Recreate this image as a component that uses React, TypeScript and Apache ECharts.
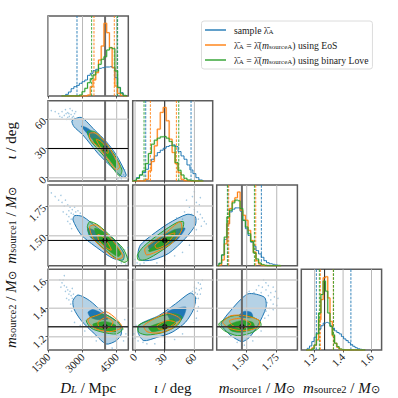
import React, { useEffect, useRef } from "react";
import * as echarts from "echarts";

const BLUE = "#1f77b4", ORANGE = "#ff7f0e", GREEN = "#2ca02c";
const FONT = "Liberation Serif";

// axis tick values
const dlTicks = [1500, 3000, 4500];
const iotaTicks = [0, 30, 60];
const m1Ticks = [1.5, 1.75];
const m2Ticks = [1.2, 1.4, 1.6];
const truths = [3990, 30, 1.46, 1.27];

// histograms
const dlBins = [2080,2200,2320,2440,2560,2680,2800,2920,3040,3160,3280,3400,3520,3640,3760,3880,4000,4120,4240,4360,4480,4600,4720,4840,4960];
const dlBlue = [0,1,5,12,22,28,32,38,43,48,62,68,76,80,83,85,87,87,88,85,55,26,10,2,0];
const dlOrange = [0,0,0,0,0,0,0,0,0,0,3,28,48,70,108,150,218,190,145,85,30,8,2,0,0];
const dlGreen = [0,0,0,0,0,0,0,3,13,23,40,52,63,75,95,110,118,138,145,142,75,25,8,1,0];

const iotaBins = [-3,0,3,6,9,12,15,18,21,24,27,30,33,36,39,42,45,48,51,54,57,60,63,66,69];
const iotaBlue = [0,2,10,18,25,35,50,65,75,85,92,98,103,106,108,103,88,75,65,48,33,22,10,3,1];
const iotaOrange = [0,0,0,0,0,5,30,58,105,155,205,220,180,125,85,52,25,5,1,0,0,0,0,0,0];
const iotaGreen = [0,2,8,18,30,52,82,110,122,128,132,133,128,118,105,55,32,18,8,3,1,0,0,0,0];

const m1Bins = [1.258,1.28,1.302,1.324,1.346,1.368,1.39,1.412,1.434,1.456,1.478,1.5,1.522,1.544,1.566,1.588,1.61,1.632,1.654,1.676,1.698,1.72,1.742,1.764,1.786];
const m1Blue = [0,7,32,78,125,160,168,172,172,162,135,110,90,70,58,45,35,25,15,9,6,4,2,1,0];
const m1Orange = [0,2,17,65,125,170,192,202,219,165,150,135,105,75,40,15,5,1,0,0,0,0,0,0,0];
const m1Green = [0,7,32,85,145,165,187,195,193,170,135,115,95,72,38,20,8,3,1,0,0,0,0,0,0];

const m2Bins = [1.14,1.156,1.172,1.188,1.204,1.22,1.236,1.252,1.268,1.284,1.3,1.316,1.332,1.348,1.364,1.38,1.396,1.412,1.428,1.444,1.46,1.476,1.492,1.508,1.524,1.54,1.556];
const m2Blue = [1,5,12,25,38,50,62,72,80,82,80,72,65,57,52,48,40,33,28,22,16,11,7,4,2,1,0];
const m2Orange = [0,0,1,6,14,30,90,150,215,218,155,85,42,20,8,2,0,0,0,0,0,0,0,0,0,0,0];
const m2Green = [0,0,0,3,15,48,110,165,205,175,110,70,45,20,10,3,1,0,0,0,0,0,0,0,0,0,0];

// percentiles drawn as dashed lines: [low, high]
const dlBlueQ = [2757, 4541], dlOrangeQ = [3503, 4395], dlGreenQ = [3400, 4526];
const iotaBlueQ = [10.8, 56.6], iotaOrangeQ = [15.5, 41.8], iotaGreenQ = [9.1, 44.2];
const m1BlueQ = [1.344, 1.622], m1OrangeQ = [1.35, 1.575], m1GreenQ = [1.339, 1.564];
const m2BlueQ = [1.212, 1.455], m2OrangeQ = [1.24, 1.331], m2GreenQ = [1.233, 1.333];

// contours: D_L - iota
const a_blue90 = [[2538,58.6],[2947,62],[3532,49],[4044,37],[4482,23.3],[4921,2.7],[4775,0.3],[4263,11.3],[3678,25],[3020,43.9],[2626,52.5]];
const a_blue50 = [[2947,53.1],[3240,50.7],[4044,35.3],[4409,19.9],[3971,25],[3386,40.5]];
const a_green90 = [[3211,47.3],[3532,47.3],[3971,37],[4409,23.3],[4731,7.9],[4629,1.7],[4336,9.6],[3898,23.3],[3386,37]];
const a_green50 = [[3474,40.5],[3752,38.7],[4044,30.2],[4482,16.5],[4482,9.6],[4190,18.2],[3825,28.5],[3532,35.3]];
const a_orange90 = [[3313,45.6],[3605,45.6],[4044,35.3],[4409,21.6],[4629,11.3],[4482,7.9],[4190,16.5],[3678,31.9],[3357,38.7]];
const a_orange50 = [[3605,39.4],[3825,37],[4117,28.5],[4117,25],[3825,30.2]];
const a_dots = [[1630,69],[1800,68],[1950,66],[2100,68],[2250,70],[2350,67],[2450,71],[2550,69],[2650,66],[2200,64],[2350,62],[2450,60],[2550,62],[2100,62],[2000,63],[2500,65],[2300,60],[2400,66],[2600,63],[2650,61],[2700,68],[2420,63],[2520,60],[2280,66],[4800,3],[4850,8],[4700,-1],[4550,-1],[4900,0],[4650,2],[4760,10]];

// contours: D_L - m1
const b_blue90 = [[2582,1.632],[2655,1.669],[3021,1.66],[3678,1.562],[4409,1.463],[4819,1.351],[4775,1.295],[4336,1.309],[3678,1.393],[2947,1.506]];
const b_blue50 = [[3240,1.562],[3678,1.53],[4409,1.449],[4482,1.393],[3678,1.449],[3313,1.492]];
const b_green90 = [[3211,1.576],[3313,1.618],[3678,1.59],[4263,1.492],[4775,1.393],[4994,1.295],[4819,1.275],[4263,1.337],[3678,1.435],[3313,1.506]];
const b_green50 = [[3532,1.562],[3898,1.534],[4336,1.449],[4702,1.351],[4556,1.323],[4117,1.379],[3678,1.478]];
const b_orange90 = [[3313,1.576],[3605,1.59],[4044,1.52],[4482,1.421],[4775,1.323],[4482,1.303],[3971,1.379],[3459,1.478]];
const b_orange50 = [[3678,1.511],[3971,1.478],[4263,1.379],[3971,1.407],[3708,1.463]];
const b_dots = [[1630,1.86],[1800,1.83],[1950,1.8],[2050,1.84],[2100,1.78],[2200,1.75],[2250,1.8],[2350,1.76],[2400,1.71],[2450,1.74],[2500,1.69],[2550,1.72],[2600,1.68],[2700,1.7],[2300,1.68],[2400,1.66],[2150,1.7],[2500,1.64],[2450,1.6],[2350,1.62],[2650,1.74],[2800,1.71],[2900,1.69],[2520,1.56],[4850,1.38],[4950,1.32],[4900,1.26],[4700,1.27],[5000,1.4]];

// contours: D_L - m2
const c_blue90 = [[2582,1.454],[2801,1.494],[3313,1.454],[3898,1.372],[4629,1.289],[4702,1.219],[4482,1.172],[4044,1.148],[3532,1.219],[2947,1.313],[2626,1.395]];
const c_blue50 = [[3240,1.372],[3459,1.391],[3898,1.36],[4117,1.325],[3678,1.32],[3357,1.336]];
const c_green90 = [[3167,1.313],[3459,1.344],[4044,1.353],[4556,1.301],[4775,1.254],[4482,1.219],[3898,1.231],[3386,1.259]];
const c_green50 = [[3459,1.289],[4044,1.306],[4482,1.278],[4482,1.235],[3971,1.242],[3532,1.259]];
const c_orange90 = [[3240,1.325],[3678,1.353],[4044,1.376],[4482,1.325],[4731,1.266],[4190,1.235],[3605,1.254],[3313,1.289]];
const c_orange50 = [[3678,1.301],[4044,1.336],[4336,1.306],[4190,1.266],[3752,1.266]];
const c_dots = [[2000,1.6],[2100,1.58],[2150,1.6],[2200,1.56],[2300,1.55],[2250,1.52],[2350,1.53],[2400,1.5],[2450,1.52],[2500,1.49],[2550,1.47],[2600,1.5],[2400,1.46],[2300,1.47],[2550,1.54],[2480,1.43],[2520,1.38],[2650,1.3],[2900,1.28],[3100,1.24],[3400,1.2],[3600,1.17],[4000,1.13],[4300,1.12],[4800,1.17],[4900,1.22],[4950,1.27],[4850,1.32],[2200,1.63],[2050,1.55]];

// contours: iota - m1
const d_blue90 = [[3,1.351],[5.4,1.421],[17.2,1.506],[34,1.604],[52.6,1.68],[61,1.66],[61,1.59],[50.9,1.478],[34,1.351],[17.2,1.295],[5.4,1.295]];
const d_blue50 = [[13.5,1.421],[38.8,1.548],[50.6,1.562],[42.1,1.463],[25.3,1.393],[15.2,1.379]];
const d_green90 = [[2.4,1.337],[8.4,1.407],[25.3,1.52],[42.1,1.61],[48.9,1.618],[48.2,1.562],[38.8,1.449],[25.3,1.365],[11.8,1.301],[3.4,1.295]];
const d_green50 = [[13.5,1.374],[28.6,1.478],[40.4,1.548],[40.4,1.506],[28.6,1.407],[15.2,1.365]];
const d_orange90 = [[10.1,1.393],[28.6,1.506],[45.5,1.618],[47.2,1.548],[38.8,1.449],[25.3,1.379],[11.8,1.337]];
const d_orange50 = [[20.2,1.421],[33.7,1.506],[40.4,1.52],[30.3,1.421],[21.9,1.393]];
const d_dots = [[52,1.8],[58,1.83],[62,1.78],[55,1.74],[60,1.72],[65,1.76],[63,1.7],[66,1.68],[68,1.65],[70,1.62],[50,1.7],[57,1.68],[64,1.64],[67,1.58],[72,1.6],[60,1.87],[66,1.82],[48,1.64],[62,1.55],[60,1.5],[55,1.42],[48,1.36],[40,1.33],[2,1.27],[5,1.26],[9,1.27],[0,1.3],[22,1.27],[30,1.29],[42,1.65]];

// contours: iota - m2
const e_blue90 = [[3,1.231],[5.4,1.289],[23.9,1.348],[40.8,1.431],[56,1.508],[61,1.478],[59.3,1.395],[50.9,1.301],[37.4,1.231],[22.2,1.195],[8.8,1.172]];
const e_blue50 = [[32.4,1.372],[42.5,1.4],[51.6,1.407],[47.5,1.325],[37.4,1.306]];
const e_green90 = [[3,1.278],[13.8,1.313],[27.3,1.348],[40.8,1.36],[47.5,1.336],[42.5,1.278],[29,1.231],[12.1,1.212],[3.7,1.231]];
const e_green50 = [[13.8,1.266],[27.3,1.301],[39,1.325],[40.8,1.289],[30.7,1.254],[17.2,1.235]];
const e_orange90 = [[8.8,1.278],[22.2,1.336],[32.4,1.367],[45.8,1.325],[37.4,1.259],[23.9,1.226],[12.1,1.235]];
const e_orange50 = [[22.2,1.278],[32.4,1.313],[40.8,1.301],[32.4,1.259],[23.9,1.254]];
const e_dots = [[68,1.6],[66,1.57],[64,1.58],[62,1.54],[65,1.53],[61,1.51],[63,1.5],[60,1.48],[64,1.47],[66,1.5],[62,1.47],[61,1.44],[64,1.41],[63,1.38],[62,1.33],[60,1.3],[56,1.27],[48,1.22],[40,1.18],[30,1.16],[20,1.15],[12,1.15],[8,1.16],[3,1.17],[0,1.19],[-1,1.22],[1,1.28],[58,1.52],[67,1.54],[60,1.55]];

// contours: m1 - m2
const f_blue90 = [[1.286,1.289],[1.342,1.36],[1.508,1.501],[1.647,1.478],[1.661,1.407],[1.592,1.278],[1.522,1.195],[1.461,1.165],[1.369,1.207],[1.3,1.266]];
const f_blue50 = [[1.433,1.348],[1.481,1.379],[1.536,1.372],[1.55,1.336],[1.453,1.336]];
const f_green90 = [[1.267,1.289],[1.369,1.344],[1.508,1.348],[1.606,1.313],[1.619,1.278],[1.55,1.231],[1.425,1.207],[1.314,1.242]];
const f_green50 = [[1.342,1.278],[1.453,1.313],[1.55,1.301],[1.564,1.259],[1.453,1.231],[1.369,1.242]];
const f_orange90 = [[1.3,1.301],[1.369,1.348],[1.481,1.348],[1.606,1.313],[1.592,1.266],[1.467,1.242],[1.356,1.259]];
const f_orange50 = [[1.356,1.313],[1.453,1.329],[1.536,1.289],[1.467,1.259],[1.383,1.278]];
const f_dots = [[1.64,1.6],[1.66,1.58],[1.6,1.56],[1.63,1.55],[1.68,1.56],[1.72,1.55],[1.58,1.53],[1.66,1.53],[1.7,1.51],[1.74,1.52],[1.56,1.51],[1.62,1.51],[1.68,1.49],[1.73,1.48],[1.76,1.47],[1.7,1.46],[1.72,1.43],[1.75,1.42],[1.67,1.44],[1.69,1.4],[1.72,1.39],[1.66,1.38],[1.68,1.35],[1.65,1.33],[1.62,1.24],[1.6,1.2],[1.55,1.17],[1.48,1.14],[1.42,1.16],[1.35,1.2],[1.52,1.52],[1.5,1.51]];

type Poly = number[][];
// index into a panel's polygons + the style it is painted with, back to front
const paintOrder: [number, any][] = [
  [0, { fill: "rgba(31,119,180,0.33)", stroke: BLUE, lineWidth: 1 }],
  [1, { fill: BLUE, stroke: BLUE, lineWidth: 0.5 }],
  [4, { fill: "rgba(255,127,14,0.12)", stroke: "none" }],
  [2, { fill: "rgba(44,160,44,0.3)", stroke: GREEN, lineWidth: 1 }],
  [3, { fill: GREEN, stroke: GREEN, lineWidth: 0.5 }],
  [4, { fill: "none", stroke: ORANGE, lineWidth: 1 }],
  [5, { fill: "none", stroke: ORANGE, lineWidth: 1 }],
];

const columns = [
  { left: 48, width: 80.3, min: 1485, max: 5009, ticks: dlTicks, truth: truths[0], thick: true },
  { left: 132.7, width: 80, min: -2.36, max: 78.5, ticks: iotaTicks, truth: truths[1], thick: false },
  { left: 216.7, width: 80.7, min: 1.25, max: 1.922, ticks: m1Ticks, truth: truths[2], thick: true },
  { left: 301.3, width: 80.3, min: 1.106, max: 1.671, ticks: m2Ticks, truth: truths[3], thick: false },
];
const rows = [
  { top: 16, height: 80, min: 0, max: 240, ticks: [] as number[], truth: 0 },
  { top: 100.7, height: 80.3, min: -3.4, max: 79.2, ticks: iotaTicks, truth: truths[1] },
  { top: 185, height: 80.7, min: 1.247, max: 1.927, ticks: [1.5, 1.75], truth: truths[2] },
  { top: 269.3, height: 80.7, min: 1.106, max: 1.675, ticks: m2Ticks, truth: truths[3] },
];
const decimals = [0, 0, 2, 1];

const xNames = [
  "{i|D}{s|L}{n| / Mpc}",
  "{i|ι}{n| / deg}",
  "{i|m}{sn|source1}{n| / }{i|M}{sn|⊙}",
  "{i|m}{sn|source2}{n| / }{i|M}{sn|⊙}",
];
const yNames = ["", "{i|ι}{n| / deg}", "{i|m}{sn|source1}{n| / }{i|M}{sn|⊙}", "{i|m}{sn|source2}{n| / }{i|M}{sn|⊙}"];
const NAME_SIZE = 15;
const SUB_SIZE = 10.5;
const nameRich = {
  i: { fontFamily: FONT, fontSize: NAME_SIZE, fontStyle: "italic", fontWeight: "normal", color: "#111" },
  n: { fontFamily: FONT, fontSize: NAME_SIZE, fontWeight: "normal", color: "#111" },
  s: { fontFamily: FONT, fontSize: SUB_SIZE, fontStyle: "italic", fontWeight: "normal", color: "#111", verticalAlign: "bottom", padding: [4, 0, 0, 0] },
  sn: { fontFamily: FONT, fontSize: SUB_SIZE, fontWeight: "normal", color: "#111", verticalAlign: "bottom", padding: [4, 0, 0, 0] },
};

const LEG_SAMPLE = "sample λ̄A";
const LEG_EOS = "λ̄A = λ̄(msourceA) using EoS";
const LEG_LOVE = "λ̄A = λ̄(msourceA) using binary Love";
const legendRich: Record<string, string> = {
  [LEG_SAMPLE]: "{t|sample λ̄}{b|A}",
  [LEG_EOS]: "{t|λ̄}{b|A}{t| = λ̄(}{i|m}{b|sourceA}{t|) using EoS}",
  [LEG_LOVE]: "{t|λ̄}{b|A}{t| = λ̄(}{i|m}{b|sourceA}{t|) using binary Love}",
};

function buildOption() {
  const grids: any[] = [], xAxes: any[] = [], yAxes: any[] = [], series: any[] = [];
  const panels: [number, number][] = [];
  for (let r = 0; r < 4; r++) for (let c = 0; c <= r; c++) panels.push([r, c]);
  const idxOf = (r: number, c: number) => panels.findIndex((p) => p[0] === r && p[1] === c);

  panels.forEach(([r, c], i) => {
    const col = columns[c], row = rows[r];
    const isDiag = r === c;
    grids.push({ show: true, left: col.left, top: row.top, width: col.width, height: row.height, borderColor: "#5c5c5c", borderWidth: 1.5, backgroundColor: "transparent", containLabel: false });
    xAxes.push({
      type: "value", gridIndex: i, min: col.min, max: col.max, splitLine: { show: false },
      axisLine: { show: false },
      axisTick: { show: true, length: 2.5, customValues: col.ticks, lineStyle: { color: "#333", width: 0.8 } },
      axisLabel: r === 3
        ? { show: true, customValues: col.ticks, rotate: 45, margin: 5, fontFamily: FONT, fontSize: 11, color: "#222", formatter: (v: number) => v.toFixed(decimals[c]) }
        : { show: false },
      name: r === 3 ? xNames[c] : "", nameLocation: "middle", nameGap: 30,
      nameTextStyle: { rich: nameRich, fontFamily: FONT, fontSize: NAME_SIZE, fontWeight: "normal" },
    });
    yAxes.push({
      type: "value", gridIndex: i, min: isDiag ? 0 : row.min, max: isDiag ? 240 : row.max, splitLine: { show: false },
      axisLine: { show: false },
      axisTick: { show: c === 0 && r > 0, length: 2.5, customValues: row.ticks, lineStyle: { color: "#333", width: 0.8 } },
      axisLabel: c === 0 && r > 0
        ? { show: true, customValues: row.ticks, rotate: 45, margin: 4, fontFamily: FONT, fontSize: 11, color: "#222", formatter: (v: number) => v.toFixed(decimals[r]) }
        : { show: false },
      name: c === 0 ? yNames[r] : "", nameLocation: "middle", nameGap: 30, nameRotate: 90,
      nameTextStyle: { rich: nameRich, fontFamily: FONT, fontSize: NAME_SIZE, fontWeight: "normal" },
    });
    // grid lines
    const yLo = isDiag ? 0 : row.min, yHi = isDiag ? 240 : row.max;
    col.ticks.forEach((t) => series.push(seg(i, [[t, yLo], [t, yHi]], "#b8b8b8", 1)));
    if (!isDiag) row.ticks.forEach((t) => series.push(seg(i, [[col.min, t], [col.max, t]], "#cfcfcf", 1.5)));
  });

  // dots + contours
  const panelData: [number, number, Poly[], Poly][] = [
    [1, 0, [a_blue90, a_blue50, a_green90, a_green50, a_orange90, a_orange50], a_dots],
    [2, 0, [b_blue90, b_blue50, b_green90, b_green50, b_orange90, b_orange50], b_dots],
    [3, 0, [c_blue90, c_blue50, c_green90, c_green50, c_orange90, c_orange50], c_dots],
    [2, 1, [d_blue90, d_blue50, d_green90, d_green50, d_orange90, d_orange50], d_dots],
    [3, 1, [e_blue90, e_blue50, e_green90, e_green50, e_orange90, e_orange50], e_dots],
    [3, 2, [f_blue90, f_blue50, f_green90, f_green50, f_orange90, f_orange50], f_dots],
  ];
  panelData.forEach(([r, c, polys, dots]) => {
    const i = idxOf(r, c);
    series.push({
      type: "scatter", xAxisIndex: i, yAxisIndex: i, data: dots, symbolSize: 1.5, silent: true,
      itemStyle: { color: BLUE, opacity: 0.4 },
    });
    series.push({
      type: "custom", xAxisIndex: i, yAxisIndex: i, silent: true,
      data: paintOrder.map((_, k) => [k]),
      encode: { x: [], y: [] },
      renderItem: (params: any, api: any) => {
        const [k, style] = paintOrder[params.dataIndex];
        return {
          type: "polygon",
          shape: { points: polys[k].map((p) => api.coord(p)), smooth: 0.25 },
          style,
        };
      },
    });
    const col = columns[c], row = rows[r];
    series.push(seg(i, [[col.truth, row.min], [col.truth, row.max]], col.thick ? "#6a6a6a" : "#111", col.thick ? 2 : 1));
    series.push(seg(i, [[col.min, row.truth], [col.max, row.truth]], r === 3 ? "#333" : "#000", r === 3 ? 1.6 : 1));
    series.push({
      type: "scatter", xAxisIndex: i, yAxisIndex: i, data: [[col.truth, row.truth]], symbolSize: 5.5, silent: true,
      itemStyle: { color: "#000" },
    });
  });

  // diagonals
  const diag: [number, number[], number[], number[], number[], number[][]][] = [
    [0, dlBins, dlBlue, dlOrange, dlGreen, [dlBlueQ, dlOrangeQ, dlGreenQ]],
    [1, iotaBins, iotaBlue, iotaOrange, iotaGreen, [iotaBlueQ, iotaOrangeQ, iotaGreenQ]],
    [2, m1Bins, m1Blue, m1Orange, m1Green, [m1BlueQ, m1OrangeQ, m1GreenQ]],
    [3, m2Bins, m2Blue, m2Orange, m2Green, [m2BlueQ, m2OrangeQ, m2GreenQ]],
  ];
  diag.forEach(([d, bins, b, o, g, qs]) => {
    const i = idxOf(d, d);
    const col = columns[d];
    const tr = d === 0 || d === 2 ? ["#6a6a6a", 2] : ["#222", 1];
    [0, 1, 2].forEach((k) => {
      const colr = [BLUE, ORANGE, GREEN][k];
      qs[k].forEach((q) => series.push(seg(i, [[q, 0], [q, 240]], colr, 0.9, [2.6, 1.3])));
    });
    series.push(seg(i, [[col.truth, 0], [col.truth, 240]], tr[0] as string, tr[1] as number));
    const toPts = (vals: number[]) => bins.map((x, n) => [x, vals[n]]);
    series.push(histLine(i, toPts(o), ORANGE, 2, 0.25));
    series.push(histLine(i, toPts(g), GREEN, 2, 0.2));
    series.push({ ...histLine(i, toPts(b), BLUE, 1, 1), name: LEG_SAMPLE });
    series.push({ ...histLine(i, toPts(o), ORANGE, 1, 1), name: LEG_EOS });
    series.push({ ...histLine(i, toPts(g), GREEN, 1, 1), name: LEG_LOVE });
  });

  return {
    animation: false,
    backgroundColor: "#fff",
    grid: grids, xAxis: xAxes, yAxis: yAxes, series,
    legend: {
      show: true, orient: "vertical", left: 201.5, top: 21,
      data: [LEG_SAMPLE, LEG_EOS, LEG_LOVE],
      icon: "rect", itemWidth: 21, itemHeight: 1.4, itemGap: 5,
      padding: [4, 4, 4, 3.5], borderColor: "#dcdcdc", borderWidth: 1, borderRadius: 2.5, selectedMode: false,
      formatter: (name: string) => legendRich[name],
      textStyle: {
        fontFamily: FONT, fontSize: 9.7, color: "#222", padding: [0, 0, 0, 3],
        rich: {
          t: { fontFamily: FONT, fontSize: 9.7, color: "#222" },
          i: { fontFamily: FONT, fontSize: 9.7, fontStyle: "italic", color: "#222" },
          b: { fontFamily: FONT, fontSize: 7, color: "#222", verticalAlign: "bottom", padding: [3, 0, 0, 0] },
        },
      },
    },
  };
}

function seg(i: number, pts: number[][], color: string, width: number, type: any = "solid") {
  return {
    type: "line", xAxisIndex: i, yAxisIndex: i, data: pts, symbol: "none", silent: true,
    lineStyle: { color, width, type }, itemStyle: { color },
  };
}
function histLine(i: number, pts: number[][], color: string, width: number, opacity: number) {
  return {
    type: "line", step: "middle", xAxisIndex: i, yAxisIndex: i, data: pts, symbol: "none", silent: true,
    lineStyle: { color, width, opacity }, itemStyle: { color },
  };
}

export default function App() {
  const ref = useRef<HTMLDivElement>(null);
  useEffect(() => {
    const chart = echarts.init(ref.current!, null, { renderer: "svg", width: 398, height: 398 });
    chart.setOption(buildOption());
    return () => chart.dispose();
  }, []);
  return <div ref={ref} style={{ position: "fixed", left: 0, top: 0, width: 398, height: 398 }} />;
}
